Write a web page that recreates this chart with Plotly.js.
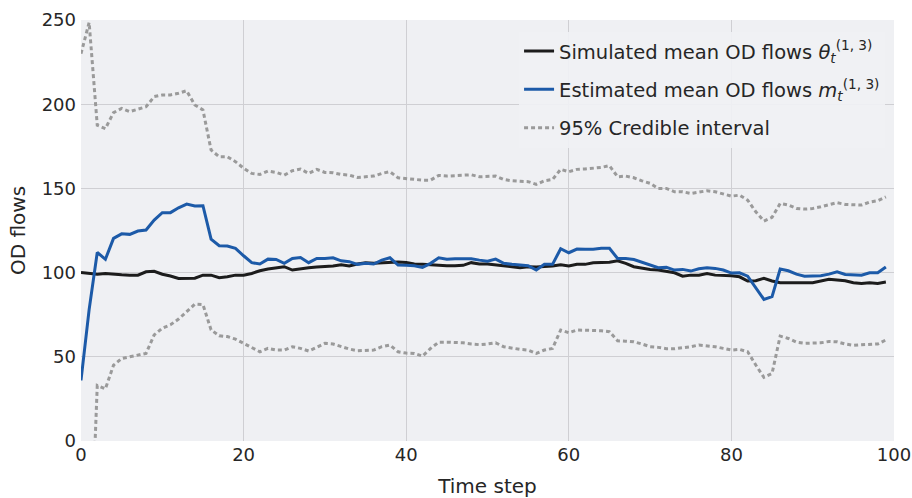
<!DOCTYPE html>
<html>
<head>
<meta charset="utf-8">
<script src="https://cdn.plot.ly/plotly-3.0.1.min.js"></script>
<style>html,body{margin:0;padding:0;background:#fff;}#chart{width:912px;height:498px;}</style>
</head>
<body>
<div id="chart"></div>
<script>
const timeSteps = Array.from({length: 100}, (_, i) => i);

const simulatedMean = [
  100, 99.5, 99, 99.5, 99, 98.7, 98.5, 98.5, 100.5, 100.8,
  99, 98, 96.5, 96.5, 96.7, 98.5, 98.5, 97, 97.5, 98.5,
  98.5, 99.5, 101.1, 102.1, 102.7, 103.5, 101.5, 102.3, 102.9, 103.3,
  103.5, 103.9, 104.7, 103.9, 105.1, 105.9, 105.5, 105.9, 105.9, 106.3,
  106, 105.1, 104.9, 104.5, 104.3, 104.1, 104.1, 104.3, 105.9, 105.1,
  105.1, 104.7, 104.1, 103.5, 102.9, 103.5, 103.3, 103.5, 103.9, 104.7,
  103.9, 104.9, 104.9, 105.9, 106.1, 106.1, 107, 105.5, 103.5, 102.5,
  101.9, 101.5, 100.9, 99.9, 97.9, 98.5, 98.5, 99.5, 98.5, 98.5,
  98.1, 97.5, 95, 95.2, 96.6, 95, 94, 94, 94.2, 94,
  94, 95.2, 96, 95.6, 95.2, 94, 93.6, 94, 93.6, 94.4
];

const estimatedMean = [
  36, 78, 112, 107.9, 120.3, 123, 122.7, 124.7, 125.3, 131.2,
  135.6, 135.6, 138.5, 140.7, 139.5, 139.7, 119.9, 116, 115.8, 114.4,
  110, 105.9, 105.1, 108, 107.8, 105.5, 108.4, 109, 105.9, 108.4,
  108.4, 108.8, 107, 106.5, 104.9, 105.5, 105.1, 107.4, 108.8, 104.5,
  104.3, 104.1, 103.1, 105.5, 108.8, 108, 108.2, 108.4, 108.2, 107.4,
  106.8, 108, 105.5, 104.9, 104.5, 104.1, 101.5, 104.9, 104.9, 114.2,
  111.8, 114, 113.8, 113.8, 114.4, 114.4, 108.4, 108.4, 107.8, 106.1,
  104.5, 102.9, 103.1, 101.5, 101.9, 100.9, 102.3, 102.9, 102.5, 101.5,
  99.7, 99.9, 97.9, 90.6, 84.1, 85.7, 102.1, 101.1, 99.1, 97.9,
  97.9, 98.1, 99.1, 100.5, 98.9, 98.5, 98.5, 99.9, 99.9, 103.3
];

const upperBound = [
  230, 248.5, 187.5, 185.5, 195, 197.5, 195.6, 197, 198.5, 204.5,
  205.5, 205.5, 206.5, 208, 199.5, 196.6, 172.8, 168.8, 168.8, 165.9,
  162, 158.9, 158.3, 160.3, 159.5, 157.9, 160.5, 161.5, 158.9, 161.3,
  159.5, 159.3, 158.3, 157.9, 156.5, 156.9, 157.3, 158.9, 159.9, 156.3,
  155.7, 155.3, 154.9, 154.9, 157.7, 157.3, 157.7, 158.1, 158.1, 156.9,
  156.9, 157.3, 155.3, 154.5, 154.2, 154, 152.4, 154.5, 155.3, 161.3,
  159.9, 161.3, 161.5, 161.9, 162.5, 163.5, 156.9, 157.3, 156.3, 154.5,
  153, 150, 150, 148, 148, 147, 148, 148.6, 148, 146.6,
  145.4, 146, 143, 136.1, 130.6, 132.8, 141.1, 140.1, 138.1, 137.7,
  138.1, 139.1, 140.1, 141.5, 140.5, 140.1, 140.1, 141.9, 142.7, 145
];

const lowerBound = [
  -160, -92, 33, 31, 45, 49, 50, 51, 52, 63,
  67, 69, 72.4, 76.8, 81.3, 81, 66, 62.5, 62, 60.5,
  58, 55, 53, 55, 54, 54, 56, 55, 53.4, 55.6,
  58, 57.6, 56, 54.6, 53.6, 53.6, 54, 56, 57, 53,
  52.2, 52, 50.4, 55, 58.7, 58.7, 58.5, 58.3, 57.6, 57.2,
  57.6, 58.3, 56, 55, 54.4, 54, 52, 54, 55, 65.9,
  64.3, 65.9, 65.9, 65.5, 65.5, 64.9, 59.5, 59.3, 58.9, 57.6,
  56, 55.6, 54.8, 54.8, 55.2, 56, 57, 56.6, 56, 55,
  54, 54.4, 53, 45.1, 37.8, 40.1, 62.3, 60.9, 58.7, 58,
  58, 58.3, 59.1, 58.9, 57.6, 56.8, 57.2, 57.6, 57.6, 60
];

const seriesNames = [
  'Simulated mean OD flows <i>θ</i><sub><i>t</i></sub><sup>(1, 3)</sup>',
  'Estimated mean OD flows <i>m</i><sub><i>t</i></sub><sup>(1, 3)</sup>',
  '95% Credible interval'
];

const dotStyle = {color: '#9a9a9a', width: 3, dash: '4px,3px'};

const traces = [
  {x: timeSteps, y: simulatedMean, mode: 'lines', name: seriesNames[0],
   line: {color: '#1c1c1c', width: 3}},
  {x: timeSteps, y: estimatedMean, mode: 'lines', name: seriesNames[1],
   line: {color: '#1c5aa8', width: 3}},
  {x: timeSteps, y: upperBound, mode: 'lines', name: seriesNames[2],
   line: dotStyle, legendgroup: 'ci'},
  {x: timeSteps, y: lowerBound, mode: 'lines', name: seriesNames[2],
   line: dotStyle, legendgroup: 'ci', showlegend: false}
];

const font = {family: '"DejaVu Sans", sans-serif', color: '#262626'};

const layout = {
  width: 912, height: 498,
  margin: {l: 81, r: 18, t: 20, b: 57},
  paper_bgcolor: '#ffffff',
  plot_bgcolor: '#eff0f3',
  font: Object.assign({size: 18}, font),
  showlegend: true,
  legend: {
    x: 0.989, xanchor: 'right', y: 0.972, yanchor: 'top',
    bgcolor: 'rgba(240,241,244,0.92)',
    font: Object.assign({size: 19.5}, font),
    itemwidth: 30
  },
  xaxis: {
    range: [0, 100], tickvals: [0, 20, 40, 60, 80, 100],
    showgrid: true, gridcolor: '#cfcfd3', gridwidth: 1,
    zeroline: false, showline: false, ticks: '',
    ticklabelstandoff: 1,
    tickfont: Object.assign({size: 18}, font),
    title: {text: 'Time step', font: Object.assign({size: 20}, font), standoff: 15}
  },
  yaxis: {
    range: [0, 250], tickvals: [0, 50, 100, 150, 200, 250],
    showgrid: true, gridcolor: '#cfcfd3', gridwidth: 1,
    zeroline: false, showline: false, ticks: '',
    ticklabelstandoff: 4,
    tickfont: Object.assign({size: 18}, font),
    title: {text: 'OD flows', font: Object.assign({size: 20}, font), standoff: 10}
  }
};

Plotly.newPlot('chart', traces, layout, {displayModeBar: false, staticPlot: true});
</script>
</body>
</html>
